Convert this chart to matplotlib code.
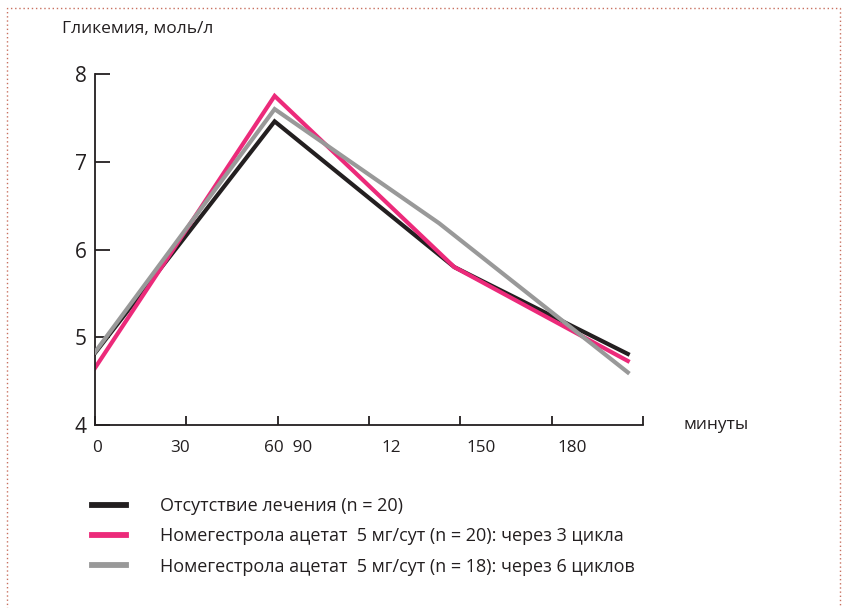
import matplotlib
matplotlib.use("Agg")
import matplotlib.pyplot as plt
from matplotlib.lines import Line2D
from matplotlib.patches import Rectangle

plt.rcParams['font.family'] = ['Open Sans', 'DejaVu Sans']

# Data
time_black = [0, 59, 118, 175]
gluc_black = [4.82, 7.46, 5.80, 4.81]
time_pink = [0, 59, 118, 175]
gluc_pink = [4.65, 7.75, 5.80, 4.73]
time_gray = [0, 59, 113, 175]
gluc_gray = [4.83, 7.60, 6.30, 4.60]

xtick_pos = [0, 30, 60, 90, 120, 150, 180]
xlabel_texts = ["0", "30", "60  90", "12", "150", "180"]
xlabel_pos = [0.7, 27.9, 63.4, 97.2, 126.9, 156.7]
yticks = [4, 5, 6, 7, 8]

series_labels = [
    "Отсутствие лечения (n = 20)",
    "Номегестрола ацетат  5 мг/сут (n = 20): через 3 цикла",
    "Номегестрола ацетат  5 мг/сут (n = 18): через 6 циклов",
]
c_black = "#231f20"
c_pink = "#ec2a7a"
c_gray = "#999999"

fig = plt.figure(figsize=(8.47, 6.08), dpi=100)
ax = fig.add_axes([95/847, 1-425/608, (643-95)/847, (425-74)/608])

lw = 3.0
ax.plot(time_gray, gluc_gray, color=c_gray, lw=lw, solid_joinstyle='miter', zorder=3)
ax.plot(time_black, gluc_black, color=c_black, lw=lw, solid_joinstyle='miter', zorder=2)
ax.plot(time_pink, gluc_pink, color=c_pink, lw=lw, solid_joinstyle='miter', zorder=2.5)

ax.set_xlim(0, 180)
ax.set_ylim(4, 8)
for s in ['top', 'right']:
    ax.spines[s].set_visible(False)
for s in ['left', 'bottom']:
    ax.spines[s].set_color(c_black)
    ax.spines[s].set_linewidth(1.3)
    ax.spines[s].set_capstyle('projecting')

ax.set_yticks(yticks)
ax.set_yticklabels([str(v) for v in yticks], fontsize=15, color=c_black)
ax.tick_params(axis='y', direction='in', length=10.5, width=1.3, color=c_black, pad=6)
ax.set_xticks(xtick_pos)
ax.set_xticklabels([])
ax.tick_params(axis='x', direction='in', length=6.5, width=1.3, color=c_black)

for t, xp in zip(xlabel_texts, xlabel_pos):
    ax.text(xp, -0.066, t, transform=ax.get_xaxis_transform(), ha='center', va='center',
            fontsize=12.3, color=c_black)

ax.text(1.073, 0.0, "минуты", transform=ax.transAxes, ha='left', va='center',
        fontsize=12.5, color=c_black)
fig.text(62/847, 1-29/608, "Гликемия, моль/л", ha='left', va='center',
         fontsize=12.5, color=c_black)

handles = [Line2D([], [], color=c, lw=4.2) for c in (c_black, c_pink, c_gray)]
fig.legend(handles, series_labels, loc='upper left', bbox_to_anchor=(92/847, 1-497/608),
           frameon=False, fontsize=13, handlelength=1.9, handletextpad=1.88,
           labelspacing=0.68, borderpad=0, borderaxespad=0, labelcolor=c_black)

# dotted border
border = Rectangle((7/847, -0.02), (840-7)/847, 1.02-8/608, transform=fig.transFigure,
                   fill=False, edgecolor="#c8705f", lw=1.0, linestyle=(0, (1, 2)))
fig.patches.append(border)

fig.savefig("out.png", dpi=100)
